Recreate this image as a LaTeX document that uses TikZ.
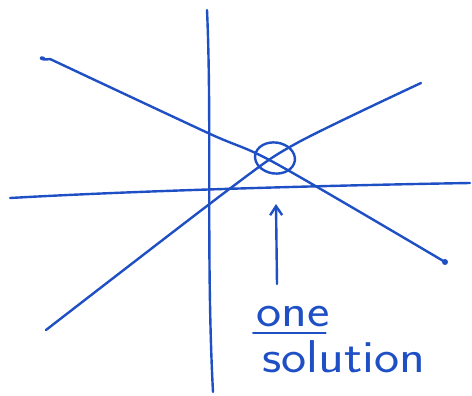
\documentclass[tikz,border=0pt]{standalone}
\usepackage{fontspec}
\usetikzlibrary{arrows.meta, positioning, calc, shapes.geometric}
\definecolor{penblue}{HTML}{1F4FC4}
\newcommand{\wide}[1]{\scalebox{1.16}[1]{#1}}

\begin{document}
\begin{tikzpicture}[
    x=1pt, y=-1pt,
    >={Straight Barb[length=9pt, width=12pt]},
    pen/.style={penblue, line width=2.4pt, line cap=round, line join=round},
    hand/.style={font=\fontsize{46}{46}\selectfont\sffamily, inner sep=0pt},
    every node/.style={text=penblue},
  ]

  % Frame
  \useasboundingbox (0,0) rectangle (472,396);

  % === Axes ===
  \draw[pen] (10,198) .. controls (150,190) and (350,185) .. (470,183);
  \draw[pen] (207,10) .. controls (212,120) and (206,260) .. (213,392);

  % === Two crossing lines ===
  \draw[pen] (44,58) .. controls (38,56) and (40,61) .. (50,59);
  \draw[pen] plot[smooth, tension=0.5] coordinates
    {(50,59) (208,133) (275,163) (445,262)};
  \fill[penblue] (445,262) circle (3pt);
  \draw[pen] plot[smooth, tension=0.5] coordinates
    {(46,330) (232,187) (297,143) (421,83)};

  % Intersection marked
  \node[pen, ellipse, draw, minimum width=40pt, minimum height=31pt,
        inner sep=0pt, rotate=-8] (sol) at (275,158) {};

  % === Label ===
  \node[hand, anchor=base west] (one) at (256,326) {\wide{one}};
  \draw[pen, line width=2pt] ($(one.base west)+(-3,7)$) -- ($(one.base east)+(-4,7)$);
  \node[hand, anchor=base west] (solution) at (262,372) {\wide{solution}};

  % Arrow up to the marked point
  \coordinate (tail) at (277,284);
  \coordinate (tip) at (276,204);
  \draw[pen, ->] (tail) -- (tip);

\end{tikzpicture}
\end{document}
